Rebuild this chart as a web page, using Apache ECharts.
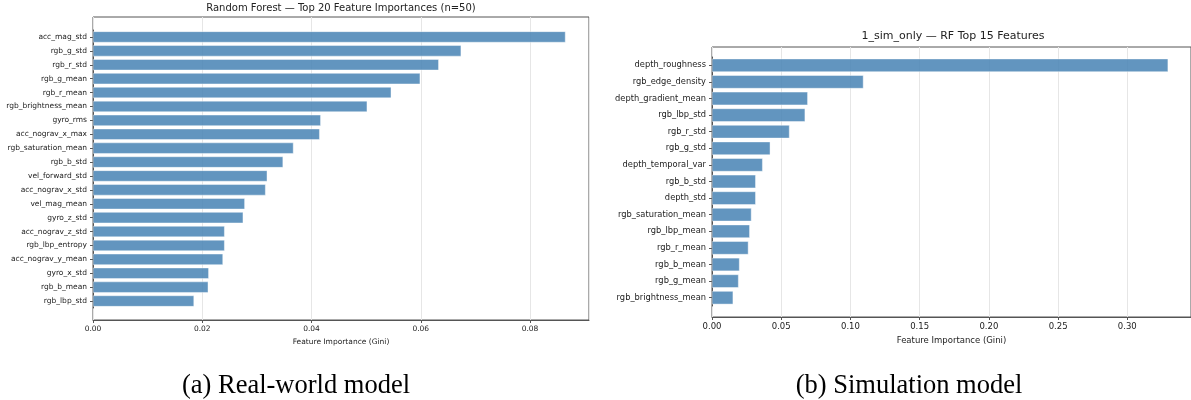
<!DOCTYPE html>
<html>
<head>
<meta charset="utf-8">
<script src="https://cdn.jsdelivr.net/npm/echarts@6/dist/echarts.min.js"></script>
<style>
  html, body { margin: 0; padding: 0; background: #fff; }
  #main { width: 1191px; height: 400px; }
</style>
</head>
<body>
<div id="main"></div>
<script>
var realFeatures = ['acc_mag_std', 'rgb_g_std', 'rgb_r_std', 'rgb_g_mean', 'rgb_r_mean',
    'rgb_brightness_mean', 'gyro_rms', 'acc_nograv_x_max', 'rgb_saturation_mean', 'rgb_b_std',
    'vel_forward_std', 'acc_nograv_x_std', 'vel_mag_mean', 'gyro_z_std', 'acc_nograv_z_std',
    'rgb_lbp_entropy', 'acc_nograv_y_mean', 'gyro_x_std', 'rgb_b_mean', 'rgb_lbp_std'];
var realValues = [0.0865, 0.0674, 0.0633, 0.0599, 0.0546,
    0.0502, 0.0417, 0.0415, 0.0367, 0.0348,
    0.0319, 0.0316, 0.0278, 0.0275, 0.0241,
    0.0241, 0.0238, 0.0212, 0.0211, 0.0185];

var simFeatures = ['depth_roughness', 'rgb_edge_density', 'depth_gradient_mean', 'rgb_lbp_std',
    'rgb_r_std', 'rgb_g_std', 'depth_temporal_var', 'rgb_b_std', 'depth_std',
    'rgb_saturation_mean', 'rgb_lbp_mean', 'rgb_r_mean', 'rgb_b_mean', 'rgb_g_mean',
    'rgb_brightness_mean'];
var simValues = [0.3295, 0.1094, 0.0692, 0.0673,
    0.0560, 0.0421, 0.0366, 0.0316, 0.0316,
    0.0285, 0.0273, 0.0263, 0.0199, 0.0192,
    0.0153];

var realMax = 0.0908;
var simMax = 0.346;

var font = 'DejaVu Sans';
var txt = '#222';
var spine = '#555';
var barColor = 'steelblue';

var chart = echarts.init(document.getElementById('main'));

// axis that draws ticks, labels and grid lines over the whole frame
function frameX(gridIndex, max, interval, size, gap) {
    return {
        type: 'value', gridIndex: gridIndex, min: 0, max: max, interval: interval,
        name: 'Feature Importance (Gini)', nameLocation: 'middle', nameGap: gap,
        nameTextStyle: { fontFamily: font, fontSize: size, color: txt },
        axisLine: { show: true, lineStyle: { color: spine, width: 1 } },
        axisTick: { show: true, length: 3, lineStyle: { color: spine } },
        axisLabel: {
            fontFamily: font, fontSize: size, color: txt, margin: 5, showMaxLabel: false,
            formatter: function (v) { return v.toFixed(2); }
        },
        splitLine: { show: true, lineStyle: { color: '#e6e6e6', width: 1 } }
    };
}

function barX(gridIndex, max) {
    return { type: 'value', gridIndex: gridIndex, min: 0, max: max, show: false, splitLine: { show: false } };
}

function barY(gridIndex, names, size) {
    return {
        type: 'category', gridIndex: gridIndex, data: names, inverse: true,
        axisLine: { show: true, lineStyle: { color: spine, width: 1 } },
        axisTick: { show: true, length: 3, alignWithLabel: true, lineStyle: { color: spine } },
        axisLabel: { fontFamily: font, fontSize: size, color: txt, margin: 6, interval: 0 }
    };
}

var option = {
    backgroundColor: '#fff',
    animation: false,
    title: [
        { text: 'Random Forest — Top 20 Feature Importances (n=50)', left: 341, top: 3, padding: 0, textAlign: 'center',
          textStyle: { fontFamily: font, fontSize: 10, fontWeight: 'normal', color: txt } },
        { text: '1_sim_only — RF Top 15 Features', left: 953, top: 31, padding: 0, textAlign: 'center',
          textStyle: { fontFamily: font, fontSize: 11, fontWeight: 'normal', color: txt } },
        { text: '(a) Real-world model', left: 296, top: 373, padding: 0, textAlign: 'center',
          textStyle: { fontFamily: 'Liberation Serif', fontSize: 26.5, fontWeight: 'normal', color: '#000' } },
        { text: '(b) Simulation model', left: 909, top: 373, padding: 0, textAlign: 'center',
          textStyle: { fontFamily: 'Liberation Serif', fontSize: 26.5, fontWeight: 'normal', color: '#000' } }
    ],
    grid: [
        { left: 93, right: 602, top: 17, bottom: 80, show: true, borderColor: spine, borderWidth: 1, containLabel: false },
        { left: 93, right: 602, top: 30, bottom: 92, containLabel: false },
        { left: 712, right: -3, top: 47, bottom: 83, show: true, borderColor: spine, borderWidth: 1, containLabel: false },
        { left: 712, right: -3, top: 57, bottom: 94, containLabel: false }
    ],
    xAxis: [
        frameX(0, realMax, 0.02, 7.5, 18),
        barX(1, realMax),
        frameX(2, simMax, 0.05, 8.5, 18),
        barX(3, simMax)
    ],
    yAxis: [
        { type: 'value', gridIndex: 0, show: false, splitLine: { show: false } },
        barY(1, realFeatures, 7.5),
        { type: 'value', gridIndex: 2, show: false, splitLine: { show: false } },
        barY(3, simFeatures, 8.3)
    ],
    series: [
        {
            type: 'bar', xAxisIndex: 1, yAxisIndex: 1, data: realValues, barWidth: '80%',
            itemStyle: { color: barColor, opacity: 0.85, borderColor: '#fff', borderWidth: 0.5 }
        },
        {
            type: 'bar', xAxisIndex: 3, yAxisIndex: 3, data: simValues, barWidth: '80%',
            itemStyle: { color: barColor, opacity: 0.85, borderColor: '#fff', borderWidth: 0.5 }
        }
    ]
};

chart.setOption(option);
window.addEventListener('resize', function () {
    chart.resize();
});
</script>
</body>
</html>
